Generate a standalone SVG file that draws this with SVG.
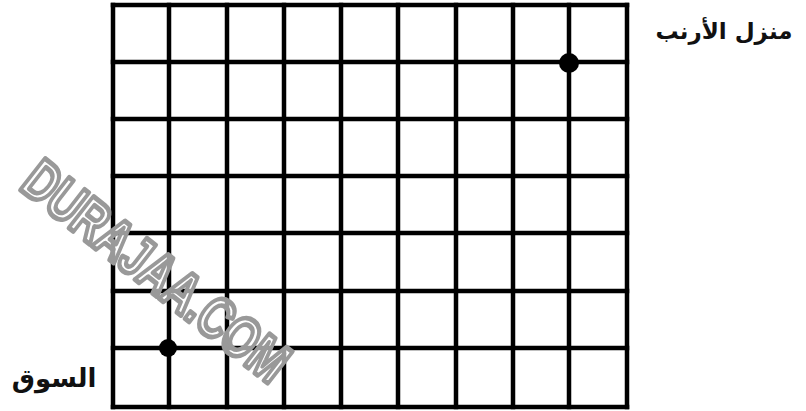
<svg xmlns="http://www.w3.org/2000/svg" width="806" height="411" viewBox="0 0 806 411">
<style>
.grid line{stroke:#000;stroke-width:4.5;stroke-linecap:square}
.lbl{font-family:"DejaVu Sans","Noto Sans",sans-serif;font-weight:bold;fill:#111}
.wm{font-family:"Liberation Sans",Arial,sans-serif;font-weight:bold;font-size:58px;fill:#fff;fill-opacity:0.6;stroke:#999;stroke-width:5;stroke-linejoin:round}
</style>
<rect width="806" height="411" fill="#fff"/>
<g id="grid" class="grid">
<line x1="113" y1="5" x2="113" y2="407"/>
<line x1="169" y1="5" x2="169" y2="407"/>
<line x1="227" y1="5" x2="227" y2="407"/>
<line x1="284" y1="5" x2="284" y2="407"/>
<line x1="341" y1="5" x2="341" y2="407"/>
<line x1="398" y1="5" x2="398" y2="407"/>
<line x1="456" y1="5" x2="456" y2="407"/>
<line x1="513" y1="5" x2="513" y2="407"/>
<line x1="569" y1="5" x2="569" y2="407"/>
<line x1="627" y1="5" x2="627" y2="407"/>
<line x1="113" y1="5" x2="627" y2="5"/>
<line x1="113" y1="62" x2="627" y2="62"/>
<line x1="113" y1="119" x2="627" y2="119"/>
<line x1="113" y1="176" x2="627" y2="176"/>
<line x1="113" y1="233" x2="627" y2="233"/>
<line x1="113" y1="291" x2="627" y2="291"/>
<line x1="113" y1="348" x2="627" y2="348"/>
<line x1="113" y1="407" x2="627" y2="407"/>
</g>
<g id="rabbit-home">
<circle cx="569" cy="63" r="10" fill="#000"/>
<text class="lbl" x="724" y="39" font-size="23" text-anchor="middle">منزل الأرنب</text>
</g>
<g id="market">
<circle cx="168" cy="348" r="9" fill="#000"/>
<text class="lbl" x="54" y="387" font-size="26" text-anchor="middle">السوق</text>
</g>
<g id="watermark">
<text class="wm" transform="translate(18,188) rotate(38)" textLength="320" lengthAdjust="spacingAndGlyphs">DURAJAA.COM</text>
</g>
</svg>
